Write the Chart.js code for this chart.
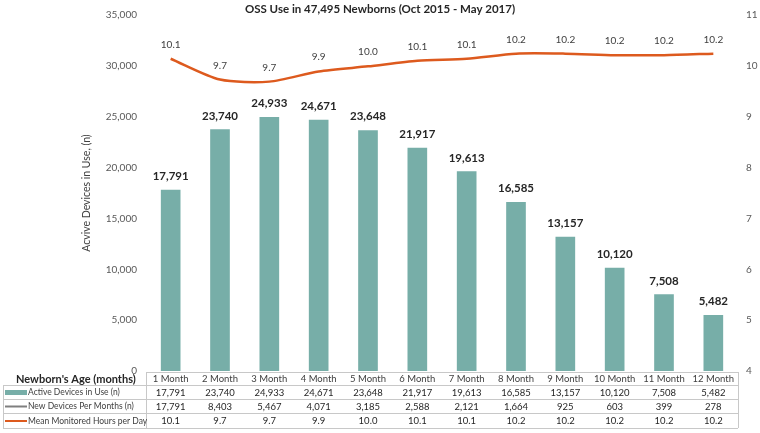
<!DOCTYPE html>
<html>
<head>
<meta charset="utf-8">
<script src="https://cdn.jsdelivr.net/npm/chart.js@4.4.1/dist/chart.umd.min.js"></script>
<style>
html, body { margin: 0; padding: 0; background: #fff; }
#wrap { width: 760px; height: 433px; }
</style>
</head>
<body>
<div id="wrap"><canvas id="grafico"></canvas></div>
<script>
const months = ['1 Month', '2 Month', '3 Month', '4 Month', '5 Month', '6 Month',
                '7 Month', '8 Month', '9 Month', '10 Month', '11 Month', '12 Month'];
const activeDevices = [17791, 23740, 24933, 24671, 23648, 21917, 19613, 16585, 13157, 10120, 7508, 5482];
const newDevices = [17791, 8403, 5467, 4071, 3185, 2588, 2121, 1664, 925, 603, 399, 278];
// rounded values, as printed in the table and over the line
const meanHours = [10.1, 9.7, 9.7, 9.9, 10.0, 10.1, 10.1, 10.2, 10.2, 10.2, 10.2, 10.2];
// line positions (unrounded)
const meanHoursLine = [10.14, 9.73, 9.69, 9.89, 9.99, 10.1, 10.14, 10.24, 10.24, 10.21, 10.21, 10.24];
const devicesTicks = { min: 0, max: 35000, step: 5000 };
const hoursTicks = { min: 4, max: 11, step: 1 };

const titulo = 'OSS Use in 47,495 Newborns (Oct 2015 - May 2017)';
const FONT = 'Lato, "Open Sans", sans-serif';
const TEAL = '#77aea8';
const ORANGE = '#dd5a1e';
const GRIS = '#7f7f7f';

const fmt = v => v.toLocaleString('en-US');

const etiquetas = {
    id: 'etiquetas',
    afterDatasetsDraw(chart) {
        const ctx = chart.ctx;
        ctx.save();
        ctx.textAlign = 'center';
        ctx.textBaseline = 'alphabetic';
        // bar values
        ctx.font = 'bold 11.5px ' + FONT;
        ctx.fillStyle = '#262626';
        chart.getDatasetMeta(1).data.forEach((bar, i) => {
            ctx.fillText(fmt(activeDevices[i]), bar.x, bar.y - 10);
        });
        // line values
        ctx.font = '10px ' + FONT;
        ctx.fillStyle = '#404040';
        chart.getDatasetMeta(0).data.forEach((pt, i) => {
            ctx.fillText(meanHours[i].toFixed(1), pt.x, pt.y - 11);
        });
        ctx.restore();
    },
    afterDraw(chart) {
        const ctx = chart.ctx;
        const xs = chart.scales.x;
        const area = chart.chartArea;
        const izq = 3, sep = area.left, der = area.right;
        const filas = [372, 385, 399, 413, 428];

        ctx.save();
        // title
        ctx.font = 'bold 11.5px ' + FONT;
        ctx.fillStyle = '#262626';
        ctx.textAlign = 'center';
        ctx.textBaseline = 'middle';
        ctx.fillText(titulo, 380, 9);

        // table grid
        ctx.strokeStyle = '#c8c8c8';
        ctx.lineWidth = 1;
        ctx.beginPath();
        ctx.moveTo(sep, filas[0] + 0.5); ctx.lineTo(der, filas[0] + 0.5);
        for (let r = 1; r < filas.length; r++) {
            ctx.moveTo(izq, filas[r] + 0.5); ctx.lineTo(der, filas[r] + 0.5);
        }
        ctx.moveTo(sep + 0.5, filas[0]); ctx.lineTo(sep + 0.5, filas[4]);
        ctx.moveTo(der + 0.5, filas[0]); ctx.lineTo(der + 0.5, filas[4]);
        ctx.moveTo(izq + 0.5, filas[1]); ctx.lineTo(izq + 0.5, filas[4]);
        ctx.stroke();

        // header
        ctx.font = 'bold 11px ' + FONT;
        ctx.fillStyle = '#262626';
        ctx.textAlign = 'left';
        ctx.fillText("Newborn's Age (months)", 16, (filas[0] + filas[1]) / 2 + 1);

        const centro = r => (filas[r] + filas[r + 1]) / 2 + 0.5;
        ctx.textAlign = 'center';
        ctx.font = '9.5px ' + FONT;
        ctx.fillStyle = '#404040';
        months.forEach((m, i) => ctx.fillText(m, xs.getPixelForValue(i), centro(0)));
        ctx.fillStyle = '#262626';
        activeDevices.forEach((v, i) => ctx.fillText(fmt(v), xs.getPixelForValue(i), centro(1)));
        newDevices.forEach((v, i) => ctx.fillText(fmt(v), xs.getPixelForValue(i), centro(2)));
        meanHours.forEach((v, i) => ctx.fillText(v.toFixed(1), xs.getPixelForValue(i), centro(3)));

        // row legends
        ctx.fillStyle = TEAL;
        ctx.fillRect(5, centro(1) - 2.5, 22, 5);
        ctx.lineWidth = 2;
        ctx.strokeStyle = GRIS;
        ctx.beginPath(); ctx.moveTo(5, centro(2)); ctx.lineTo(27, centro(2)); ctx.stroke();
        ctx.strokeStyle = ORANGE;
        ctx.beginPath(); ctx.moveTo(5, centro(3)); ctx.lineTo(27, centro(3)); ctx.stroke();

        ctx.textAlign = 'left';
        ctx.font = '8.5px ' + FONT;
        ctx.fillStyle = '#404040';
        ctx.fillText('Active Devices in Use (n)', 28, centro(1));
        ctx.fillText('New Devices Per Months (n)', 28, centro(2));
        ctx.fillText('Mean Monitored Hours per Day', 28, centro(3));
        ctx.restore();
    }
};

const ctx = document.getElementById('grafico').getContext('2d');
const chart = new Chart(ctx, {
    data: {
        labels: months,
        datasets: [{
            type: 'line',
            label: 'Mean Monitored Hours per Day',
            data: meanHoursLine,
            yAxisID: 'y1',
            borderColor: ORANGE,
            borderWidth: 2.5,
            pointRadius: 0,
            tension: 0.25,
            order: 0
        }, {
            type: 'bar',
            label: 'Active Devices in Use (n)',
            data: activeDevices,
            yAxisID: 'y',
            backgroundColor: TEAL,
            barThickness: 19,
            order: 1
        }]
    },
    options: {
        responsive: true,
        maintainAspectRatio: false,
        animation: false,
        layout: { padding: { top: 11, bottom: 62, left: 78, right: 0 } },
        plugins: { legend: { display: false }, tooltip: { enabled: false } },
        scales: {
            x: { display: false, offset: true },
            y: {
                position: 'left',
                min: devicesTicks.min,
                max: devicesTicks.max,
                grid: { display: false, drawTicks: false },
                border: { display: false },
                ticks: {
                    stepSize: devicesTicks.step,
                    padding: 9,
                    color: '#595959',
                    font: { family: FONT, size: 10 }
                },
                title: {
                    display: true,
                    text: 'Acvive Devices in Use, (n)',
                    color: '#404040',
                    font: { family: FONT, size: 10.5 },
                    padding: { top: 2, bottom: 0 }
                },
                afterFit(s) { s.width = 68; }
            },
            y1: {
                position: 'right',
                min: hoursTicks.min,
                max: hoursTicks.max,
                grid: { display: false, drawTicks: false },
                border: { display: false },
                ticks: {
                    stepSize: hoursTicks.step,
                    padding: 8,
                    color: '#595959',
                    font: { family: FONT, size: 10 }
                },
                afterFit(s) { s.width = 22; }
            }
        }
    },
    plugins: [etiquetas]
});
</script>
</body>
</html>
